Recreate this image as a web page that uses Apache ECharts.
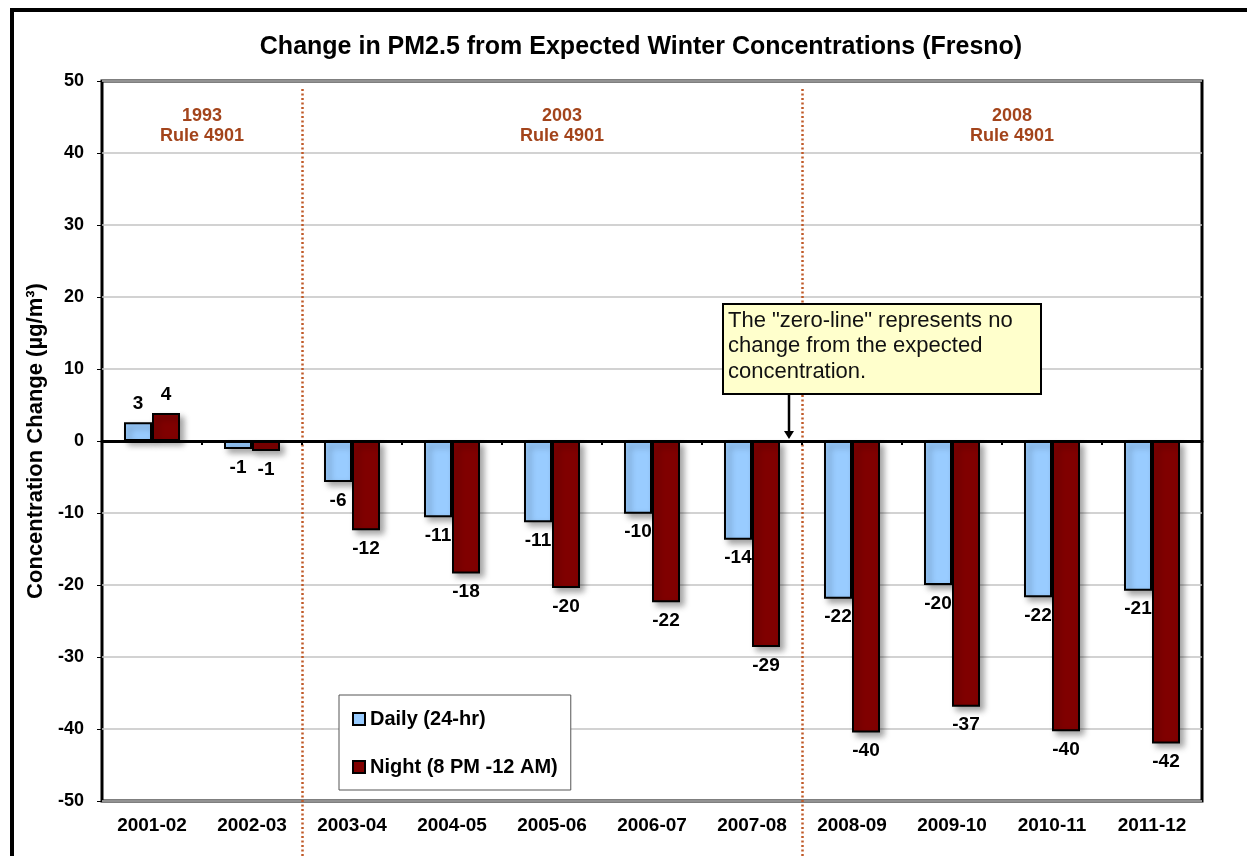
<!DOCTYPE html>
<html>
<head>
<meta charset="utf-8">
<script src="https://cdn.jsdelivr.net/npm/echarts@6/dist/echarts.min.js"></script>
<style>
  html, body { margin: 0; padding: 0; background: #ffffff; }
  #chart { width: 1247px; height: 856px; }
</style>
</head>
<body>
<div id="chart"></div>
<script>
// Winter seasons
const seasons = ['2001-02', '2002-03', '2003-04', '2004-05', '2005-06', '2006-07',
                 '2007-08', '2008-09', '2009-10', '2010-11', '2011-12'];
// Change from expected concentration, µg/m³
const daily = [2.6, -1.1, -5.7, -10.6, -11.3, -10.1, -13.7, -21.9, -20.0, -21.7, -20.8];
const night = [3.9, -1.4, -12.4, -18.4, -20.4, -22.4, -28.6, -40.5, -36.9, -40.3, -42.0];
const seriesNames = ['Daily (24-hr)', 'Night (8 PM -12 AM)'];
const yTicks = { min: -50, max: 50, step: 10 };
// Rule periods: first season index of each period
const rulePeriods = [
  { start: 0, year: '1993', rule: 'Rule 4901' },
  { start: 2, year: '2003', rule: 'Rule 4901' },
  { start: 7, year: '2008', rule: 'Rule 4901' }
];
const noteText = 'The "zero-line" represents no\nchange from the expected\nconcentration.';

const FONT = '"Liberation Sans", Arial, sans-serif';
const RULE_TEXT = '#a3441b';
const RULE_LINE = '#c05a28';

const chart = echarts.init(document.getElementById('chart'), null, { renderer: 'canvas' });

function barData(values) {
  return values.map(v => ({
    value: v,
    label: { position: v >= 0 ? 'top' : 'bottom' }
  }));
}

const barCommon = {
  type: 'bar',
  xAxisIndex: 0,
  yAxisIndex: 0,
  barWidth: 28,
  barGap: '0%',
  label: {
    show: true,
    distance: 9,
    fontFamily: FONT,
    fontWeight: 'bold',
    fontSize: 19,
    color: '#000',
    formatter: p => String(Math.round(p.value))
  },
  emphasis: { disabled: true }
};

const option = {
  backgroundColor: '#ffffff',
  animation: false,
  title: {
    text: 'Change in PM2.5 from Expected Winter Concentrations (Fresno)',
    left: 636,
    textAlign: 'center',
    top: 30,
    textStyle: { fontFamily: FONT, fontWeight: 'bold', fontSize: 25, color: '#000' }
  },
  legend: {
    data: seriesNames,
    orient: 'vertical',
    left: 339,
    top: 695,
    padding: [14, 13, 13, 13],
    itemGap: 28,
    itemWidth: 12,
    itemHeight: 12,
    icon: 'rect',
    backgroundColor: '#ffffff',
    borderColor: '#555555',
    borderWidth: 1,
    textStyle: { fontFamily: FONT, fontWeight: 'bold', fontSize: 20, color: '#000' },
    selectedMode: false
  },
  grid: {
    left: 102, right: 45, top: 81, bottom: 55,
    show: true,
    borderColor: '#000',
    borderWidth: 3,
    backgroundColor: 'transparent'
  },
  xAxis: [
    {
      type: 'category',
      data: seasons,
      position: 'bottom',
      axisLine: { show: false, onZero: false },
      axisTick: { show: false },
      splitLine: { show: false },
      axisLabel: {
        margin: 15, interval: 0,
        fontFamily: FONT, fontWeight: 'bold', fontSize: 19, color: '#000'
      }
    },
    {
      // zero line with season dividers
      type: 'category',
      data: seasons,
      position: 'bottom',
      axisLine: { show: true, onZero: true, lineStyle: { color: '#000', width: 3 } },
      axisTick: { show: true, length: 4, interval: 0, lineStyle: { color: '#000', width: 2 } },
      axisLabel: { show: false },
      splitLine: { show: false },
      z: 5
    }
  ],
  yAxis: {
    type: 'value',
    min: yTicks.min,
    max: yTicks.max,
    interval: yTicks.step,
    name: 'Concentration Change (µg/m³)',
    nameLocation: 'middle',
    nameGap: 55,
    nameTextStyle: { fontFamily: FONT, fontWeight: 'bold', fontSize: 22, color: '#000' },
    axisLine: { show: false },
    axisTick: { show: true, length: 5, lineStyle: { color: '#000', width: 1 } },
    axisLabel: { margin: 18, fontFamily: FONT, fontWeight: 'bold', fontSize: 18, color: '#000' },
    splitLine: { show: true, lineStyle: { color: '#c3c3c3', width: 1.5 } }
  },
  series: [
    Object.assign({}, barCommon, {
      name: seriesNames[0],
      data: barData(daily),
      itemStyle: {
        color: '#99ccff', borderColor: '#000', borderWidth: 2,
        shadowColor: 'rgba(0,0,0,0.35)', shadowBlur: 6, shadowOffsetX: 4, shadowOffsetY: 4
      }
    }),
    Object.assign({}, barCommon, {
      name: seriesNames[1],
      data: barData(night),
      itemStyle: {
        color: '#800000', borderColor: '#000', borderWidth: 2,
        shadowColor: 'rgba(0,0,0,0.35)', shadowBlur: 6, shadowOffsetX: 4, shadowOffsetY: 4
      }
    })
  ]
};

chart.setOption(option);

// Boundary between two neighbouring seasons, in pixels
function boundaryX(i) {
  const a = chart.convertToPixel({ xAxisIndex: 0 }, seasons[i - 1]);
  const b = chart.convertToPixel({ xAxisIndex: 0 }, seasons[i]);
  return (a + b) / 2;
}
function centerX(i) {
  return chart.convertToPixel({ xAxisIndex: 0 }, seasons[i]);
}

const graphics = [];

// outer frame (top and left edges)
graphics.push({
  type: 'polyline',
  shape: { points: [[12, 860], [12, 10], [1250, 10]] },
  style: { stroke: '#000', lineWidth: 4, fill: null },
  z: 10
});

// period dividers and their rule labels
rulePeriods.forEach((p, k) => {
  if (p.start > 0) {
    const x = Math.round(boundaryX(p.start)) + 0.5;
    graphics.push({
      type: 'line',
      shape: { x1: x, y1: 89, x2: x, y2: 856 },
      style: { stroke: RULE_LINE, lineWidth: 2.5, lineDash: [2, 2.5] },
      z: 3
    });
  }
  const end = k + 1 < rulePeriods.length ? rulePeriods[k + 1].start : seasons.length;
  const first = centerX(p.start);
  const last = centerX(end - 1);
  const shift = k === 0 ? 0 : 10;
  graphics.push({
    type: 'text',
    x: (first + last) / 2 + shift,
    y: 106,
    style: {
      text: p.year + '\n' + p.rule,
      align: 'center',
      verticalAlign: 'top',
      fontFamily: FONT, fontWeight: 'bold', fontSize: 18, lineHeight: 20,
      fill: RULE_TEXT
    },
    z: 4
  });
});

// callout about the zero line
const zeroY = chart.convertToPixel({ yAxisIndex: 0 }, 0);
graphics.push({
  type: 'rect',
  shape: { x: 723, y: 304, width: 318, height: 90 },
  style: { fill: '#ffffcc', stroke: '#000', lineWidth: 2 },
  z: 20
});
graphics.push({
  type: 'text',
  x: 728, y: 308,
  style: {
    text: noteText,
    fontFamily: FONT, fontSize: 22, lineHeight: 25.5,
    fill: '#111', align: 'left', verticalAlign: 'top'
  },
  z: 21
});
graphics.push({
  type: 'line',
  shape: { x1: 789, y1: 395, x2: 789, y2: zeroY - 8 },
  style: { stroke: '#000', lineWidth: 2.5 },
  z: 20
});
graphics.push({
  type: 'polygon',
  shape: { points: [[784, zeroY - 10], [794, zeroY - 10], [789, zeroY - 2]] },
  style: { fill: '#000' },
  z: 20
});

chart.setOption({ graphic: graphics });
</script>
</body>
</html>
